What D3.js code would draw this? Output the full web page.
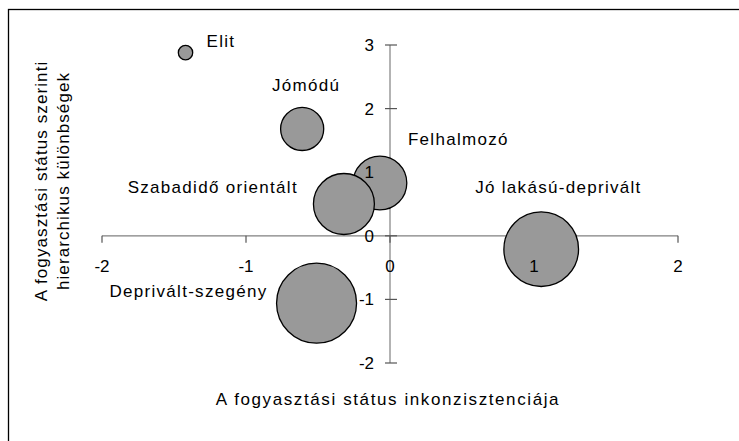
<!DOCTYPE html>
<html>
<head>
<meta charset="utf-8">
<script src="https://cdn.jsdelivr.net/npm/d3@7"></script>
<style>
  body { margin: 0; background: #fff; }
  text { font-family: "Liberation Sans", Arial, sans-serif; fill: #000; }
</style>
</head>
<body>
<div id="chart"></div>
<script>
// csoportok
const groups = ['Elit', 'Jómódú', 'Felhalmozó', 'Szabadidő orientált', 'Jó lakású-deprivált', 'Deprivált-szegény']
const inkonzisztencia = [-1.42, -0.61, -0.07, -0.32, 1.05, -0.51]
const hierarchia = [2.88, 1.68, 0.83, 0.50, -0.21, -1.06]
const arany = [1, 9, 14, 18, 27, 31]

const xTicks = [-2, -1, 0, 1, 2]
const yTicks = [-2, -1, 0, 1, 2, 3]

const xTitle = 'A fogyasztási státus inkonzisztenciája'
const yTitle = ['A fogyasztási státus szerinti', 'hierarchikus különbségek']

// label placement relative to bubble centre (px)
const labelPos = [
    { anchor: 'start',  dx: 21,  dy: -6 },
    { anchor: 'middle', dx: 4,   dy: -38 },
    { anchor: 'start',  dx: 28,  dy: -38 },
    { anchor: 'end',    dx: -46, dy: -11 },
    { anchor: 'start',  dx: -66, dy: -56 },
    { anchor: 'end',    dx: -49, dy: -6 }
]

const width = 739
const height = 441

const svg = d3.select('#chart').append('svg')
              .attr('width', width)
              .attr('height', height)

// outer frame (cropped at right and bottom)
svg.append('rect')
   .attr('x', 8.5)
   .attr('y', 9.5)
   .attr('width', 800)
   .attr('height', 800)
   .attr('fill', 'none')
   .attr('stroke', '#000')
   .attr('stroke-width', 1.3)

const x = d3.scaleLinear().domain([-2, 2]).range([102, 678])
const y = d3.scaleLinear().domain([-2, 3]).range([363, 45])
const r = d3.scaleSqrt().domain([0, d3.max(arany)]).range([0, 40])

const data = groups.map((g, i) => ({
    name: g,
    x: inkonzisztencia[i],
    y: hierarchia[i],
    size: arany[i],
    pos: labelPos[i]
}))

// axis lines
const axes = svg.append('g').attr('class', 'axes')
axes.append('line')
    .attr('x1', x(-2)).attr('x2', x(2))
    .attr('y1', y(0)).attr('y2', y(0))
    .attr('stroke', '#808080').attr('stroke-width', 1.2)
axes.append('line')
    .attr('x1', x(0)).attr('x2', x(0))
    .attr('y1', y(3)).attr('y2', y(-2))
    .attr('stroke', '#808080').attr('stroke-width', 1.2)

axes.selectAll('.xtick')
    .data(xTicks)
    .enter().append('line')
    .attr('class', 'xtick')
    .attr('x1', d => x(d)).attr('x2', d => x(d))
    .attr('y1', y(0)).attr('y2', y(0) + 7)
    .attr('stroke', '#555').attr('stroke-width', 1.2)

axes.selectAll('.ytick')
    .data(yTicks)
    .enter().append('line')
    .attr('class', 'ytick')
    .attr('x1', x(0) - 5).attr('x2', x(0) + 7)
    .attr('y1', d => y(d)).attr('y2', d => y(d))
    .attr('stroke', '#555').attr('stroke-width', 1.2)

// bubbles
svg.append('g')
   .selectAll('circle')
   .data(data)
   .enter().append('circle')
   .attr('cx', d => x(d.x))
   .attr('cy', d => y(d.y))
   .attr('r', d => r(d.size))
   .attr('fill', '#999999')
   .attr('stroke', '#000')
   .attr('stroke-width', 1.3)

// tick labels sit on top of the bubbles
const tl = svg.append('g').style('font-size', '17px')
tl.selectAll('.xl')
  .data(xTicks)
  .enter().append('text')
  .attr('x', d => x(d))
  .attr('y', y(0) + 36)
  .attr('text-anchor', 'middle')
  .text(d => d)
tl.selectAll('.yl')
  .data(yTicks)
  .enter().append('text')
  .attr('x', x(0) - 16)
  .attr('y', d => y(d) + 6)
  .attr('text-anchor', 'end')
  .text(d => d)

// bubble labels
svg.append('g')
   .style('font-size', '17px')
   .style('letter-spacing', '1.3px')
   .selectAll('text')
   .data(data)
   .enter().append('text')
   .attr('x', d => x(d.x) + d.pos.dx)
   .attr('y', d => y(d.y) + d.pos.dy)
   .attr('text-anchor', d => d.pos.anchor)
   .text(d => d.name)

// axis titles
svg.append('text')
   .attr('x', 388)
   .attr('y', 405)
   .attr('text-anchor', 'middle')
   .style('font-size', '17px')
   .style('letter-spacing', '1.6px')
   .text(xTitle)

svg.append('g')
   .attr('transform', 'translate(0,181) rotate(-90)')
   .selectAll('text')
   .data(yTitle)
   .enter().append('text')
   .attr('x', 0)
   .attr('y', (d, i) => 47 + i * 22)
   .attr('text-anchor', 'middle')
   .style('font-size', '17px')
   .style('letter-spacing', '1.1px')
   .text(d => d)
</script>
</body>
</html>
